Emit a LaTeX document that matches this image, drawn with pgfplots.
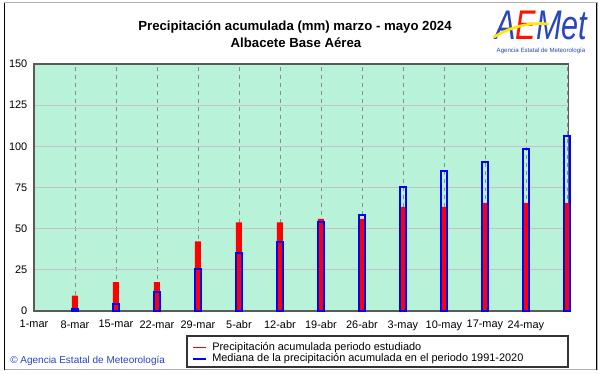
\documentclass[border=0pt]{standalone}
\usepackage{fontspec}
\setmainfont{Liberation Sans}
\usepackage{pgfplots}
\pgfplotsset{compat=1.18}
\definecolor{bgmint}{RGB}{184,242,216}
\definecolor{hgrid}{RGB}{200,190,205}
\definecolor{vgrid}{RGB}{140,140,140}
\definecolor{axgray}{RGB}{90,90,90}
\definecolor{aemetblue}{RGB}{40,70,190}
\definecolor{barblue}{RGB}{0,0,255}
\definecolor{barred}{RGB}{255,0,0}
\begin{document}
\begin{tikzpicture}[x=0.75pt,y=0.75pt]
\path[use as bounding box, fill=white] (0,0) rectangle (601,374);
% outer frame
\draw[gray!60, line width=0.75pt] (4,4) rectangle (597,371);
\draw[black, line width=1.2pt] (4.5,4) -- (4.5,371);
\draw[black, line width=1.2pt] (596.5,4) -- (596.5,371);
% titles
\node[font=\fontsize{9.9}{12}\selectfont\bfseries] at (295,347) {Precipitación acumulada (mm) marzo - mayo 2024};
\node[font=\fontsize{9.9}{12}\selectfont\bfseries] at (296,331) {Albacete Base Aérea};
% logo
\node[anchor=base west, inner sep=0pt, yscale=1.35, font=\fontsize{23}{23}\selectfont\itshape] at (495,334) {\textcolor{aemetblue}{A}\textcolor{red!85!orange}{E}\textcolor{aemetblue}{Met}};
\draw[yellow!90!orange, line width=2pt, line cap=round] (494,337) .. controls (510,347) and (530,352) .. (548,350);
\node[font=\fontsize{4.6}{5}\selectfont, text=aemetblue, inner sep=0.5pt] at (541,323) {Agencia Estatal de Meteorología};
% copyright
\node[anchor=west, inner sep=0pt, text=aemetblue, font=\fontsize{7.5}{9}\selectfont] at (10,13.5) {© Agencia Estatal de Meteorología};
% legend
\draw[black!80, line width=0.8pt, fill=white] (187,38) rectangle (568,7);
\draw[barred, line width=1.1pt] (193,26.5) -- (206,26.5);
\draw[barblue, line width=1.1pt] (193,15) -- (206,15);
\node[anchor=west, inner sep=0pt, font=\fontsize{8.2}{9.5}\selectfont] at (212,26.5) {Precipitación acumulada periodo estudiado};
\node[anchor=west, inner sep=0pt, font=\fontsize{8.2}{9.5}\selectfont] at (212,15) {Mediana de la precipitación acumulada en el periodo 1991-2020};
\begin{axis}[
  at={(25.5pt,47.25pt)}, anchor=south west,
  scale only axis, width=400.9pt, height=185.25pt,
  xmin=0, xmax=13.04, ymin=0, ymax=150,
  clip=false,
  axis background/.style={fill=bgmint},
  axis line style={axgray, line width=0.9pt},
  xtick={0,1,...,13},
  xticklabels={1-mar,8-mar,15-mar,22-mar,29-mar,5-abr,12-abr,19-abr,26-abr,3-may,10-may,17-may,24-may,},
  ytick={0,25,...,150},
  major tick length=0pt,
  xmajorgrids, ymajorgrids,
  x grid style={vgrid, dashed, line width=0.5pt},
  y grid style={hgrid, line width=0.75pt},
  tick label style={font=\fontsize{8.2}{10}\selectfont},
  /pgf/number format/assume math mode=true,
  yticklabel style={xshift=-1.5pt},
  xticklabel style={yshift=-3.5pt},
]
\addplot[ybar, bar width=4.5pt, bar shift=0pt, fill=barred, draw=none] coordinates {
 (1,9.3) (2,17.6) (3,17.6) (4,42.3) (5,53.8) (6,53.8) (7,55.9) (8,55.9) (9,63.2) (10,63.2) (11,65.6) (12,65.6) (13,65.6)};
\addplot[ybar, bar width=4.5pt, bar shift=0pt, fill=none, draw=barblue, line width=1.5pt] coordinates {
 (1,1.4) (2,4.3) (3,11.7) (4,25.3) (5,35.0) (6,41.9) (7,54.3) (8,58.3) (9,75.5) (10,85.0) (11,90.7) (12,98.4) (13,106.3)};
\end{axis}
\end{tikzpicture}
\end{document}
